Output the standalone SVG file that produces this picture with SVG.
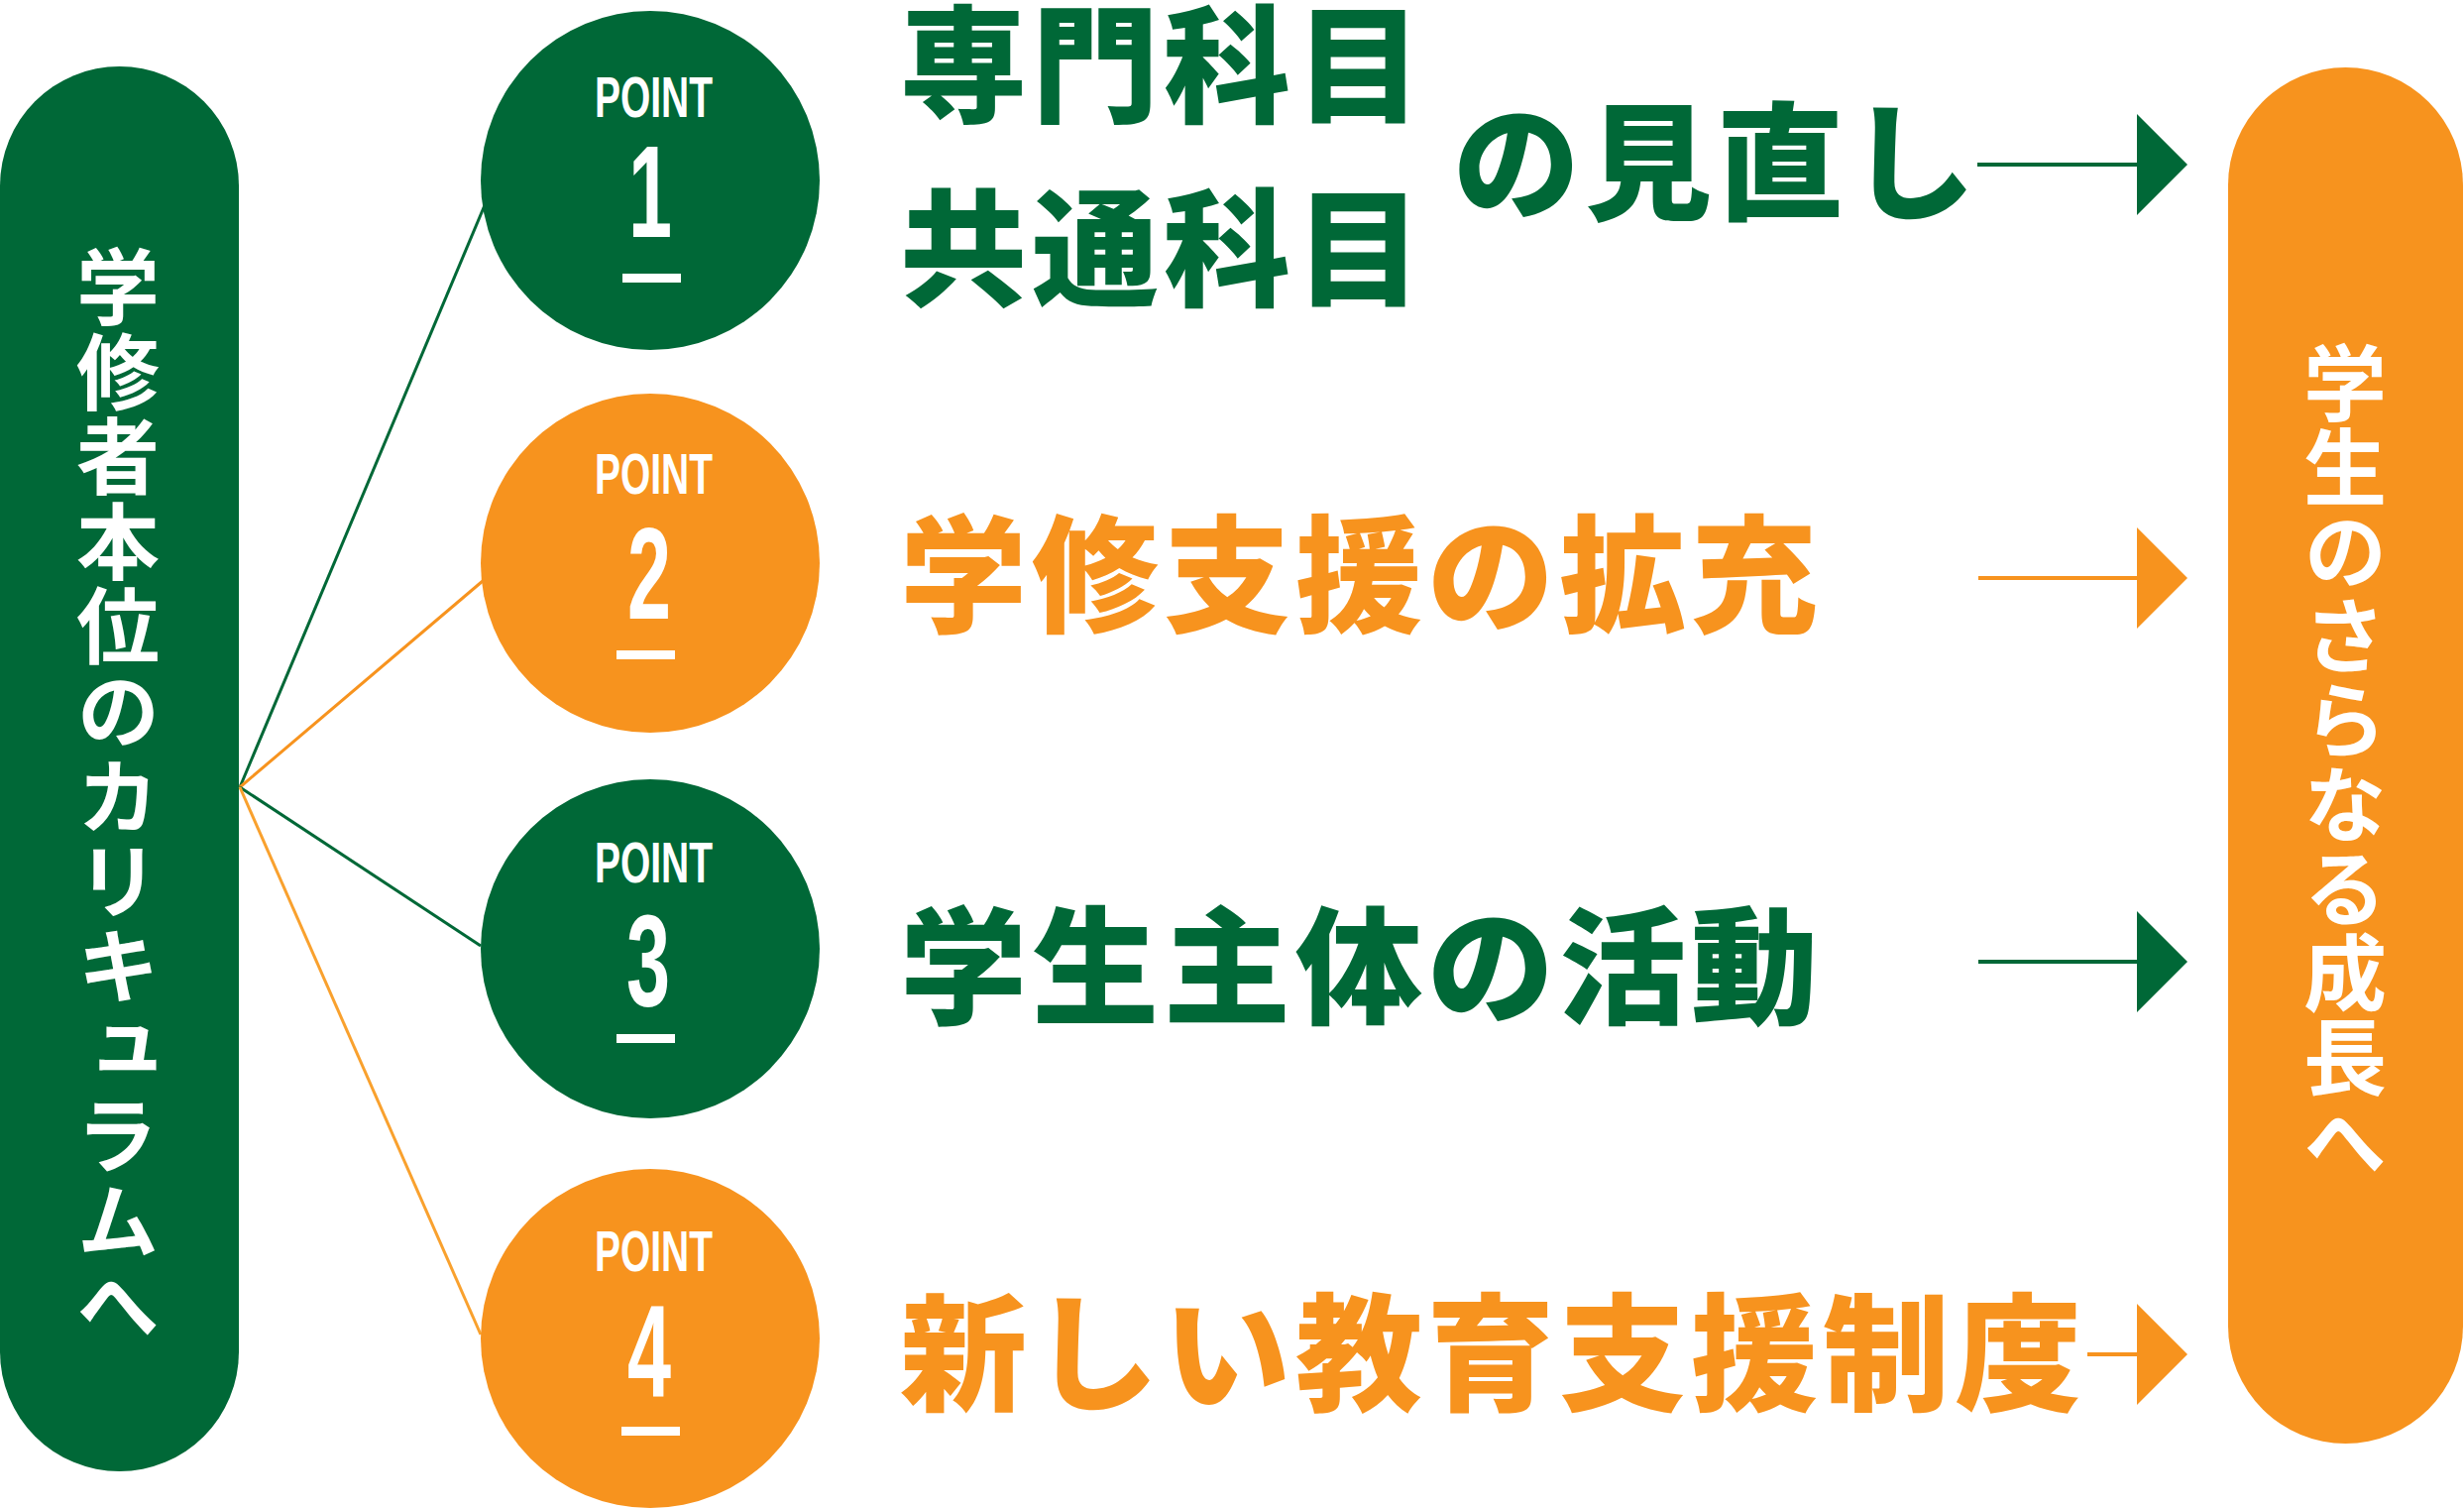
<svg xmlns="http://www.w3.org/2000/svg" width="2486" height="1522" viewBox="0 0 2486 1522">
<defs>
<style>
.g{fill:#006837}
.o{fill:#F7931E}
.w{fill:#FFFFFF}
.jp{font-family:"Noto Sans CJK JP","Noto Sans CJK SC",sans-serif;font-weight:900;font-size:128px;letter-spacing:5px}
.vt{font-family:"Noto Sans CJK JP","Noto Sans CJK SC",sans-serif;font-weight:700;font-size:84px;fill:#FFFFFF;writing-mode:vertical-rl}
.pt{font-family:"Liberation Sans Narrow","Liberation Sans",sans-serif;font-weight:700;font-size:57px;fill:#FFFFFF}
.num{font-family:"Liberation Sans Narrow","Liberation Sans",sans-serif;font-weight:700;font-size:132px;fill:#FFFFFF;text-anchor:middle}
.ln{stroke-width:3;fill:none}
.ar{stroke-width:4;fill:none}
</style>
<marker id="ahg" markerUnits="userSpaceOnUse" markerWidth="52" markerHeight="102" refX="0" refY="51" orient="auto" viewBox="0 0 52 102">
<path d="M0,0 L51,51 L0,102 Z" fill="#006837"/>
</marker>
<marker id="aho" markerUnits="userSpaceOnUse" markerWidth="52" markerHeight="102" refX="0" refY="51" orient="auto" viewBox="0 0 52 102">
<path d="M0,0 L51,51 L0,102 Z" fill="#F7931E"/>
</marker>
</defs>
<rect width="2486" height="1522" fill="#FFFFFF"/>

<g id="left-pill">
<rect x="0" y="67" width="241" height="1417" rx="120.5" class="g"/>
<text x="119" y="247" class="vt" letter-spacing="1.6">学修者本位のカリキュラムへ</text>
</g>

<g id="connectors">
<line x1="242" y1="794" x2="489" y2="207" class="ln" stroke="#006837"/>
<line x1="242" y1="794" x2="487" y2="586" class="ln" stroke="#F7931E"/>
<line x1="242" y1="794" x2="485" y2="954" class="ln" stroke="#006837"/>
<line x1="242" y1="794" x2="485" y2="1346" class="ln" stroke="#F9A12E"/>
<line x1="1995" y1="166" x2="2156" y2="166" class="ar" stroke="#006837" marker-end="url(#ahg)"/>
<line x1="1996" y1="583" x2="2156" y2="583" class="ar" stroke="#F7931E" marker-end="url(#aho)"/>
<line x1="1996" y1="970" x2="2156" y2="970" class="ar" stroke="#006837" marker-end="url(#ahg)"/>
<line x1="2106" y1="1366" x2="2156" y2="1366" class="ar" stroke="#F7931E" marker-end="url(#aho)"/>
</g>

<g id="point1">
<circle cx="656" cy="182" r="171" class="g"/>
<text x="600" y="118" class="pt" textLength="119" lengthAdjust="spacingAndGlyphs">POINT</text>
<text class="num" transform="translate(656,239) scale(0.6,1)">1</text>
<rect x="628" y="276" width="59" height="9" class="w"/>
</g>

<g id="point2">
<circle cx="656" cy="568" r="171" class="o"/>
<text x="600" y="498" class="pt" textLength="119" lengthAdjust="spacingAndGlyphs">POINT</text>
<text class="num" transform="translate(655,624) scale(0.6,1)">2</text>
<rect x="622" y="656" width="59" height="9" class="w"/>
</g>

<g id="point3">
<circle cx="656" cy="957" r="171" class="g"/>
<text x="600" y="890" class="pt" textLength="119" lengthAdjust="spacingAndGlyphs">POINT</text>
<text class="num" transform="translate(654,1015) scale(0.6,1)">3</text>
<rect x="622" y="1043" width="59" height="9" class="w"/>
</g>

<g id="point4">
<circle cx="656" cy="1350" r="171" class="o"/>
<text x="600" y="1282" class="pt" textLength="119" lengthAdjust="spacingAndGlyphs">POINT</text>
<text class="num" transform="translate(655,1408) scale(0.6,1)">4</text>
<rect x="627" y="1439" width="59" height="9" class="w"/>
</g>

<g id="item1">
<text x="908" y="114" class="jp g">専門科目</text>
<text x="908" y="299" class="jp g">共通科目</text>
<text x="1466" y="212" class="jp g">の見直し</text>
</g>

<g id="item2">
<text x="908" y="628" class="jp o">学修支援の拡充</text>
</g>

<g id="item3">
<text x="908" y="1023" class="jp g">学生主体の活動</text>
</g>

<g id="item4">
<text x="908" y="1413" class="jp o">新しい教育支援制度</text>
</g>

<g id="right-pill">
<rect x="2248" y="68" width="237" height="1388" rx="118.5" class="o"/>
<text x="2366" y="344" class="vt" letter-spacing="1">学生のさらなる成長へ</text>
</g>
</svg>
